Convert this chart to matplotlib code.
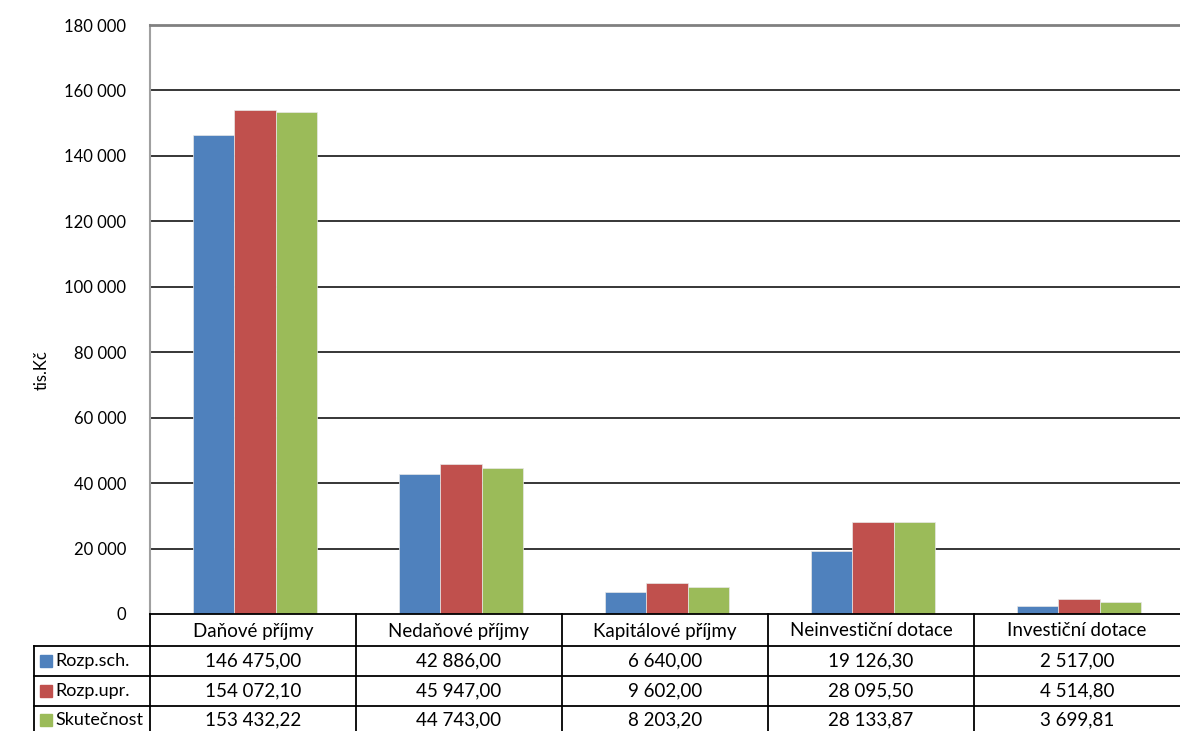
import matplotlib
matplotlib.use("Agg")
import matplotlib.pyplot as plt
from matplotlib.lines import Line2D
from matplotlib.patches import Rectangle

categories = ["Daňové příjmy", "Nedaňové příjmy", "Kapitálové příjmy", "Neinvestiční dotace", "Investiční dotace"]
series_names = ["Rozp.sch.", "Rozp.upr.", "Skutečnost"]
rozp_sch = [146475.00, 42886.00, 6640.00, 19126.30, 2517.00]
rozp_upr = [154072.10, 45947.00, 9602.00, 28095.50, 4514.80]
skutecnost = [153432.22, 44743.00, 8203.20, 28133.87, 3699.81]
yticks = [0, 20000, 40000, 60000, 80000, 100000, 120000, 140000, 160000, 180000]
colors = ["#4F81BD", "#C0504D", "#9BBB59"]

plt.rcParams['font.family'] = ['Lato', 'DejaVu Sans']

W, H = 1180, 731
fig = plt.figure(figsize=(W / 100, H / 100), dpi=100)

ax_left, ax_right, ax_top, ax_bottom = 150, 1180, 25, 614
ax = fig.add_axes([ax_left / W, 1 - ax_bottom / H, (ax_right - ax_left) / W, (ax_bottom - ax_top) / H])

def fmt(v, dec=0):
    s = f"{v:,.{dec}f}"
    s = s.replace(",", " ").replace(".", ",")
    return s

data = [rozp_sch, rozp_upr, skutecnost]
n = len(categories)
bw = 0.2
for i, (vals, c) in enumerate(zip(data, colors)):
    xs = [k + (i - 1) * bw + 0.01 for k in range(n)]
    ax.bar(xs, vals, width=bw, color=c, edgecolor="#e8e8e8", linewidth=0.5, zorder=3)

ax.set_xlim(-0.5, n - 0.5)
ax.set_ylim(0, 180000)
ax.set_yticks(yticks)
ax.set_yticklabels([fmt(v) for v in yticks], fontsize=12)
ax.tick_params(axis='y', length=0, pad=17)
ax.tick_params(axis='x', length=0, labelbottom=False)
for y in yticks[1:-1]:
    ax.axhline(y, color="black", linewidth=1.1, zorder=1)
for s in ["right", "bottom"]:
    ax.spines[s].set_visible(False)
ax.spines["top"].set_color("#808080")
ax.spines["top"].set_linewidth(2)
ax.spines["left"].set_color("#a0a0a0")
ax.spines["left"].set_linewidth(1.5)

def fy(py):
    return 1 - py / H
def fx(px):
    return px / W

fig.text(fx(42), fy(370), "tis.Kč", rotation=90, ha="center", va="center", fontsize=12)

# table
row_lines = [614, 646, 676, 706, 740]
col_edges = [ax_left + k * (ax_right - ax_left) / n for k in range(n + 1)]
lw = 1.3
fig.add_artist(Line2D([fx(ax_left), fx(ax_right)], [fy(614), fy(614)], color="black", lw=lw))
for y in row_lines[1:4]:
    fig.add_artist(Line2D([fx(34), fx(ax_right)], [fy(y), fy(y)], color="black", lw=lw))
for k, x in enumerate(col_edges[:-1]):
    fig.add_artist(Line2D([fx(x), fx(x)], [fy(614), fy(H)], color="black", lw=lw))
fig.add_artist(Line2D([fx(34), fx(34)], [fy(646), fy(H)], color="black", lw=lw))

tfs = 13.5
for k, cat in enumerate(categories):
    cx = (col_edges[k] + col_edges[k + 1]) / 2
    fig.text(fx(cx), fy(631), cat, ha="center", va="center", fontsize=tfs)

for r, (name, vals, c) in enumerate(zip(series_names, data, colors)):
    cy = (row_lines[r + 1] + row_lines[r + 2]) / 2 if r < 2 else 720
    fig.add_artist(Rectangle((fx(40), fy(cy + 6)), 12 / W, 12 / H, color=c, transform=fig.transFigure))
    fig.text(fx(55), fy(cy), name, ha="left", va="center", fontsize=13)
    for k, v in enumerate(vals):
        cx = (col_edges[k] + col_edges[k + 1]) / 2
        fig.text(fx(cx), fy(cy), fmt(v, 2), ha="center", va="center", fontsize=tfs)

fig.savefig("out.png", dpi=100)
